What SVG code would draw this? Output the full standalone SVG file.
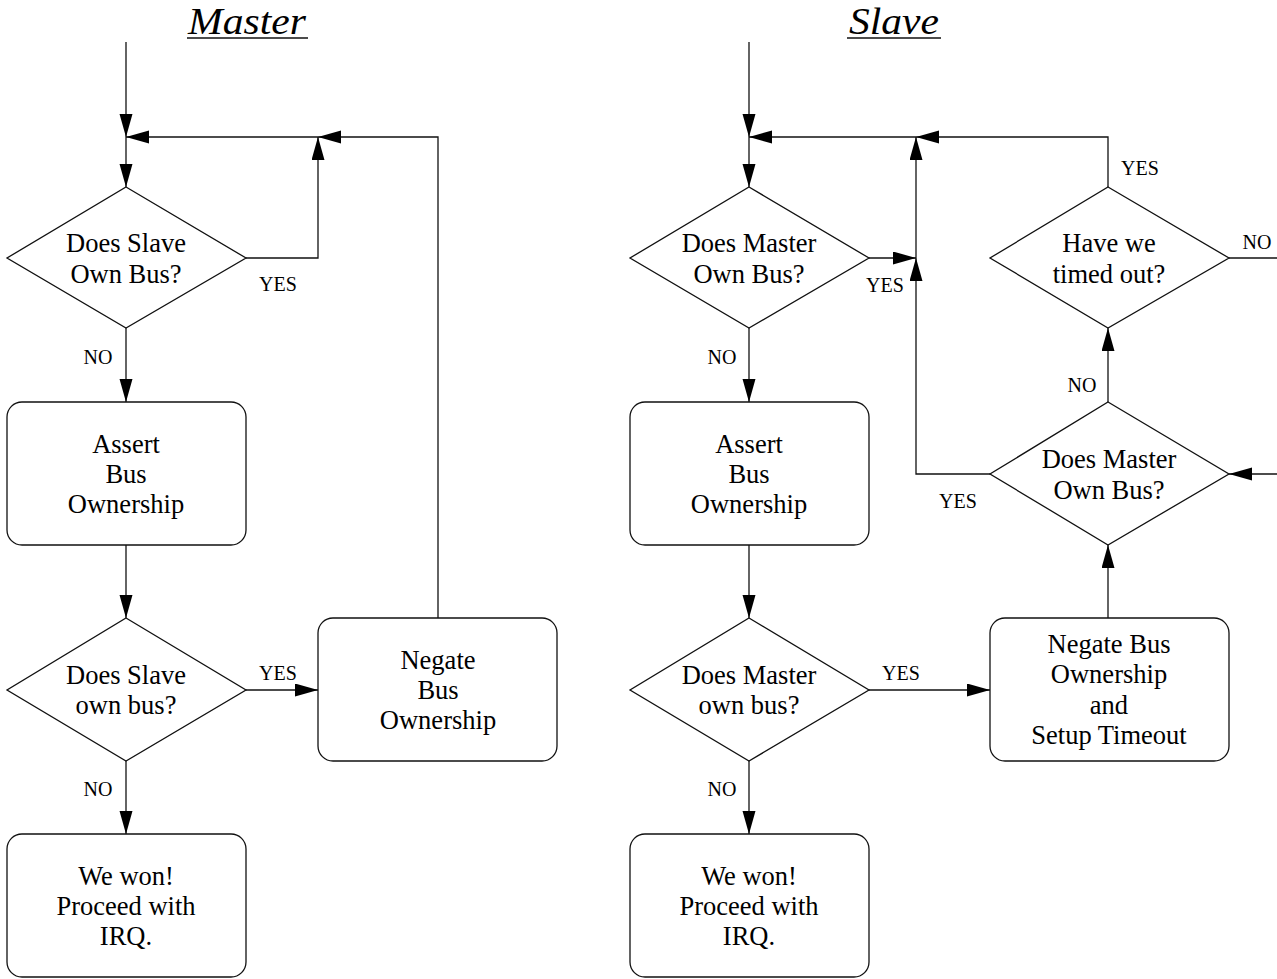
<svg xmlns="http://www.w3.org/2000/svg" width="1277" height="979" viewBox="0 0 1277 979">
<style>
.ln{fill:none;stroke:#111;stroke-width:1.3}
.arr{fill:none;stroke:#111;stroke-width:1.3;marker-end:url(#ah)}
.shape{fill:#fff;stroke:#111;stroke-width:1.3}
.t{font-family:"Liberation Serif","Times New Roman",serif;font-size:26.5px;fill:#000;text-anchor:middle}
.lb{font-family:"Liberation Serif","Times New Roman",serif;font-size:20px;fill:#000;text-anchor:middle}
.title{font-family:"Liberation Serif","Times New Roman",serif;font-size:38px;font-style:italic;fill:#000;text-anchor:middle}
</style>
<defs>
<marker id="ah" markerUnits="userSpaceOnUse" markerWidth="24" markerHeight="14" refX="23" refY="6.5" orient="auto">
<path d="M0,0 L23,6.5 L0,13 z" fill="#000"/>
</marker>
</defs>
<rect width="1277" height="979" fill="#fff"/>

<g id="titles">
<text class="title" x="247" y="34" textLength="118" lengthAdjust="spacingAndGlyphs">Master</text>
<line class="ln" x1="187" y1="38" x2="308" y2="38"/>
<text class="title" x="894" y="34" textLength="90" lengthAdjust="spacingAndGlyphs">Slave</text>
<line class="ln" x1="847" y1="38" x2="941" y2="38"/>
</g>

<g id="connectors">
<!-- Master -->
<path class="arr" d="M126,42 L126,137"/>
<path class="arr" d="M126,137 L126,187"/>
<path class="arr" d="M318,137 L126,137"/>
<path class="arr" d="M246,258 L318,258 L318,137"/>
<path class="arr" d="M438,618 L438,137 L318,137"/>
<path class="arr" d="M126,328 L126,402"/>
<path class="arr" d="M126,545 L126,618"/>
<path class="arr" d="M246,690 L318,690"/>
<path class="arr" d="M126,761 L126,834"/>
<!-- Slave -->
<path class="arr" d="M749,42 L749,137"/>
<path class="arr" d="M749,137 L749,187"/>
<path class="arr" d="M916,137 L749,137"/>
<path class="arr" d="M1108,187 L1108,137 L916,137"/>
<path class="arr" d="M916,258 L916,137"/>
<path class="arr" d="M869,258 L916,258"/>
<path class="arr" d="M990,474 L916,474 L916,258"/>
<path class="ln" d="M1229,258 L1277,258"/>
<path class="arr" d="M1277,474 L1229,474"/>
<path class="arr" d="M1108,402 L1108,328"/>
<path class="arr" d="M1108,618 L1108,545"/>
<path class="arr" d="M749,328 L749,402"/>
<path class="arr" d="M749,545 L749,618"/>
<path class="arr" d="M869,690 L990,690"/>
<path class="arr" d="M749,761 L749,834"/>
</g>

<g id="labels">
<text class="lb" x="278" y="291">YES</text>
<text class="lb" x="98" y="364">NO</text>
<text class="lb" x="278" y="680">YES</text>
<text class="lb" x="98" y="796">NO</text>
<text class="lb" x="885" y="292">YES</text>
<text class="lb" x="722" y="364">NO</text>
<text class="lb" x="1140" y="175">YES</text>
<text class="lb" x="1257" y="249">NO</text>
<text class="lb" x="1082" y="392">NO</text>
<text class="lb" x="958" y="508">YES</text>
<text class="lb" x="901" y="680">YES</text>
<text class="lb" x="722" y="796">NO</text>
</g>

<g id="m-dec1">
<polygon class="shape" points="126,187 246,258 126,328 7,258"/>
<text class="t" x="126" y="252">Does Slave</text>
<text class="t" x="126" y="283">Own Bus?</text>
</g>
<g id="m-assert">
<rect class="shape" x="7" y="402" width="239" height="143" rx="15"/>
<text class="t" x="126" y="453">Assert</text>
<text class="t" x="126" y="483">Bus</text>
<text class="t" x="126" y="513">Ownership</text>
</g>
<g id="m-dec2">
<polygon class="shape" points="126,618 246,690 126,761 7,690"/>
<text class="t" x="126" y="684">Does Slave</text>
<text class="t" x="126" y="714">own bus?</text>
</g>
<g id="m-negate">
<rect class="shape" x="318" y="618" width="239" height="143" rx="15"/>
<text class="t" x="438" y="669">Negate</text>
<text class="t" x="438" y="699">Bus</text>
<text class="t" x="438" y="729">Ownership</text>
</g>
<g id="m-won">
<rect class="shape" x="7" y="834" width="239" height="143" rx="15"/>
<text class="t" x="126" y="885">We won!</text>
<text class="t" x="126" y="915">Proceed with</text>
<text class="t" x="126" y="945">IRQ.</text>
</g>

<g id="s-dec1">
<polygon class="shape" points="749,187 869,258 749,328 630,258"/>
<text class="t" x="749" y="252">Does Master</text>
<text class="t" x="749" y="283">Own Bus?</text>
</g>
<g id="s-timeout">
<polygon class="shape" points="1108,187 1229,258 1108,328 990,258"/>
<text class="t" x="1109" y="252">Have we</text>
<text class="t" x="1109" y="283">timed out?</text>
</g>
<g id="s-dec3">
<polygon class="shape" points="1108,402 1229,474 1108,545 990,474"/>
<text class="t" x="1109" y="468">Does Master</text>
<text class="t" x="1109" y="499">Own Bus?</text>
</g>
<g id="s-assert">
<rect class="shape" x="630" y="402" width="239" height="143" rx="15"/>
<text class="t" x="749" y="453">Assert</text>
<text class="t" x="749" y="483">Bus</text>
<text class="t" x="749" y="513">Ownership</text>
</g>
<g id="s-dec2">
<polygon class="shape" points="749,618 869,690 749,761 630,690"/>
<text class="t" x="749" y="684">Does Master</text>
<text class="t" x="749" y="714">own bus?</text>
</g>
<g id="s-negate">
<rect class="shape" x="990" y="618" width="239" height="143" rx="15"/>
<text class="t" x="1109" y="653">Negate Bus</text>
<text class="t" x="1109" y="683">Ownership</text>
<text class="t" x="1109" y="714">and</text>
<text class="t" x="1109" y="744">Setup Timeout</text>
</g>
<g id="s-won">
<rect class="shape" x="630" y="834" width="239" height="143" rx="15"/>
<text class="t" x="749" y="885">We won!</text>
<text class="t" x="749" y="915">Proceed with</text>
<text class="t" x="749" y="945">IRQ.</text>
</g>
</svg>
